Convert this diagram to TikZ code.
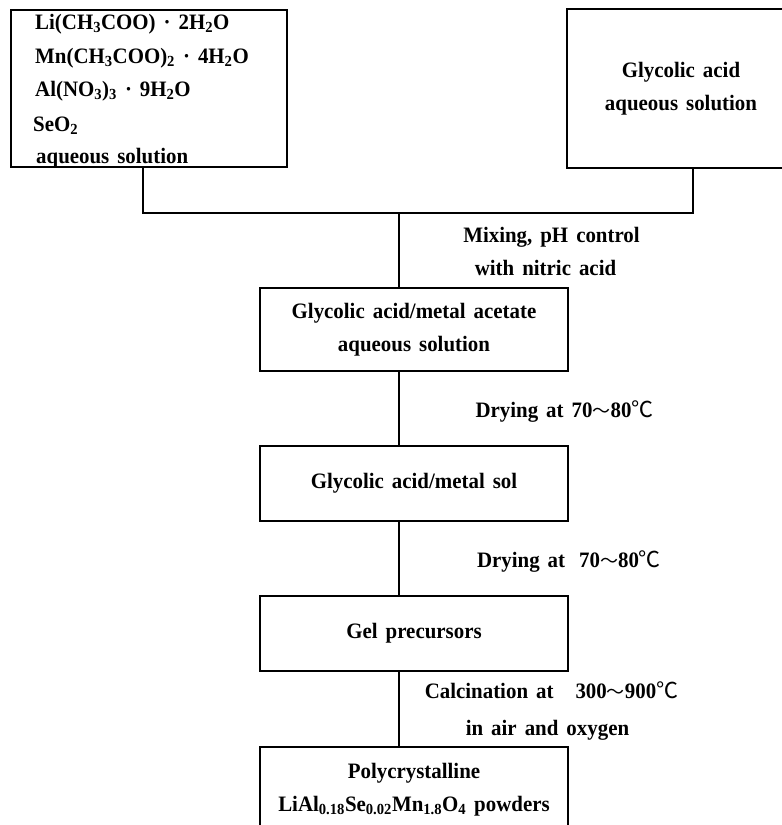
\documentclass[tikz,border=0pt]{standalone}
\usepackage{fontspec}
\setmainfont{Liberation Serif}[FakeStretch=0.95]
\newfontfamily\cjk{Noto Sans CJK SC}
\newcommand\tld{{\cjk\mdseries\fontsize{18}{20}\selectfont ～}}
\newcommand\degc{{\cjk\mdseries ℃}}
\newcommand\sbs[1]{\textsubscript{#1}}
\newcommand\myfont{\fontsize{22}{33}\bfseries\selectfont\spaceskip=8pt plus 2pt\relax}
\begin{document}
\begin{tikzpicture}[x=1pt,y=-1pt,
  every node/.style={font=\myfont},
  box/.style={draw, line width=1.3pt, inner sep=0pt, align=center},
  txt/.style={anchor=base west, inner sep=0pt},
  lbl/.style={anchor=base, inner sep=0pt, align=center},
  conn/.style={line width=1.3pt}]
\useasboundingbox (0,0) rectangle (782,825);
\clip (0,0) rectangle (782,825);
% boxes
\node[box, minimum width=276pt, minimum height=157pt] (b1) at (149,88.5) {};
\node[txt] (t1) at (35,29) {Li(CH\sbs{3}COO) · 2H\sbs{2}O};
\node[txt] (t2) at (35,63) {Mn(CH\sbs{3}COO)\sbs{2} · 4H\sbs{2}O};
\node[txt] (t3) at (35,96) {Al(NO\sbs{3})\sbs{3} · 9H\sbs{2}O};
\node[txt] (t4) at (33,131) {SeO\sbs{2}};
\node[txt] (t5) at (36,163) {aqueous solution};
\node[box, minimum width=228pt, minimum height=159pt] (b2) at (681,88.5) {Glycolic acid\\aqueous solution};
\node[box, minimum width=308pt, minimum height=83pt] (b3) at (414,329.5) {Glycolic acid/metal acetate\\aqueous solution};
\node[box, minimum width=308pt, minimum height=75pt] (b4) at (414,483.5) {Glycolic acid/metal sol};
\node[box, minimum width=308pt, minimum height=75pt] (b5) at (414,633.5) {Gel precursors};
\node[box, minimum width=308pt, minimum height=86pt] (b6) at (414,790) {Polycrystalline\\LiAl\sbs{0.18}Se\sbs{0.02}Mn\sbs{1.8}O\sbs{4} powders};
% connectors
\coordinate (m) at (399,213);
\draw[conn] ([xshift=-6pt]b1.south) |- (m) -| ([xshift=12pt]b2.south);
\draw[conn] (m) -- (b3.north -| m);
\draw[conn] (b3.south -| m) -- (b4.north -| m);
\draw[conn] (b4.south -| m) -- (b5.north -| m);
\draw[conn] (b5.south -| m) -- (b6.north -| m);
% labels
\node[lbl] (l1) at (551.5,242) {Mixing, pH control};
\node[lbl] (l2) at (545.5,275) {with nitric acid};
\node[lbl] (l3) at (564.5,417) {Drying at 70\tld80\degc};
\node[lbl] (l4) at (569,567) {Drying at\hspace{6pt} 70\tld80\degc};
\node[lbl] (l5) at (551.5,698) {Calcination at\hspace{14pt} 300\tld900\degc};
\node[lbl] (l6) at (547.5,735) {in air and oxygen};
\end{tikzpicture}
\end{document}
